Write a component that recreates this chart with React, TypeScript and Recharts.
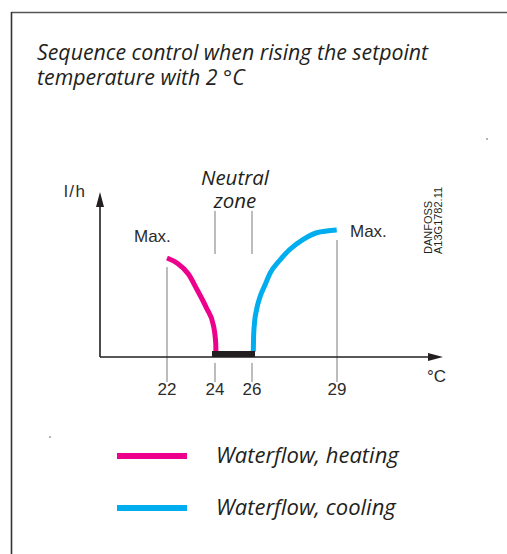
import React from "react";
import { ComposedChart, Line, XAxis, YAxis, ReferenceLine } from "recharts";

// °C axis ticks
const tickTemps = [22, 24, 26, 29];
const tickLabels = ["22", "24", "26", "29"];

// waterflow, heating (°C -> % of max l/h)
const heatTemps = [22.0, 22.43, 22.89, 23.26, 23.65, 23.93, 24.04, 24.05];
const heatFlow = [60, 56.8, 50.3, 40.6, 29.5, 19.4, 8.3, 3.2];

// waterflow, cooling
const coolTemps = [26.046, 26.056, 26.088, 26.159, 26.282, 26.459, 26.635, 26.988, 27.341, 27.811, 28.284, 28.99];
const coolFlow = [3.2, 12.1, 20.6, 28.5, 36.4, 43.6, 50.7, 58.8, 65.3, 71.3, 75.3, 77.0];

// neutral zone band on the axis
const neutralTemps = [24, 26];
const neutralFlow = [1.8, 1.8];

const seriesNames = ["Waterflow, heating", "Waterflow, cooling"];

// the drawing is schematic: the ticks are not evenly spaced in °C
const tickSpacing = [0, 48, 85, 170];
const warp = (t: number) => {
  let i = 0;
  while (i < tickTemps.length - 2 && t > tickTemps[i + 1]) i++;
  const k = (tickSpacing[i + 1] - tickSpacing[i]) / (tickTemps[i + 1] - tickTemps[i]);
  return tickSpacing[i] + (t - tickTemps[i]) * k;
};

const heatData = heatTemps.map((t, i) => ({ u: warp(t), flow: heatFlow[i] }));
const coolData = coolTemps.map((t, i) => ({ u: warp(t), flow: coolFlow[i] }));
const neutralData = neutralTemps.map((t, i) => ({ u: warp(t), flow: neutralFlow[i] }));

const X_MIN = -67;
const X_MAX = 276;

// vertical guide lines (flow units, may run below the axis)
const guides = [
  { t: 22, parts: [[54.5, -15.2]] },
  { t: 24, parts: [[88.5, 62.4], [-3.6, -15.2]] },
  { t: 26, parts: [[88.5, 62.4], [-3.6, -15.2]] },
  { t: 29, parts: [[70.9, -15.2]] },
];

const PINK = "#ec008c";
const CYAN = "#00aeef";
const INK = "#231f20";
const GREY = "#7a7a7a";
const SANS = "'Liberation Sans', Arial, sans-serif";
const ITAL = "'Open Sans', sans-serif";

const ArrowLine = (props: any) => {
  const { x1, y1, x2, y2 } = props;
  const dx = x2 - x1;
  const dy = y2 - y1;
  const len = Math.hypot(dx, dy) || 1;
  const ux = dx / len;
  const uy = dy / len;
  const hl = 15;
  const hw = 4;
  const bx = x2 - ux * hl;
  const by = y2 - uy * hl;
  return (
    <g>
      <line x1={x1} y1={y1} x2={bx} y2={by} stroke={INK} strokeWidth={1.6} />
      <polygon
        points={`${x2},${y2} ${bx - uy * hw},${by + ux * hw} ${bx + uy * hw},${by - ux * hw}`}
        fill={INK}
      />
    </g>
  );
};

export default function App() {
  return (
    <div style={{ position: "absolute", left: 0, top: 0, width: 507, height: 554, background: "#fff" }}>
      <ComposedChart
        width={507}
        height={554}
        margin={{ top: 192, right: 64, bottom: 157, left: 100 }}
      >
        <XAxis
          dataKey="u"
          type="number"
          domain={[X_MIN, X_MAX]}
          allowDataOverflow
          ticks={tickTemps.map(warp)}
          interval={0}
          tickFormatter={(v: number, i: number) => tickLabels[i]}
          axisLine={false}
          tickLine={false}
          tickMargin={20}
          height={40}
          tick={{ fontSize: 17, fill: "#2b2b2b", fontFamily: SANS }}
        />
        <YAxis type="number" domain={[0, 100]} hide />

        {guides.map((g) =>
          g.parts.map((p, j) => (
            <ReferenceLine
              key={`${g.t}-${j}`}
              segment={[
                { x: warp(g.t), y: p[0] },
                { x: warp(g.t), y: p[1] },
              ]}
              ifOverflow="visible"
              stroke={GREY}
              strokeWidth={1}
            />
          ))
        )}

        <ReferenceLine
          segment={[
            { x: X_MIN, y: 0 },
            { x: X_MAX, y: 0 },
          ]}
          ifOverflow="visible"
          shape={ArrowLine}
        />
        <ReferenceLine
          segment={[
            { x: X_MIN, y: 0 },
            { x: X_MIN, y: 100 },
          ]}
          ifOverflow="visible"
          shape={ArrowLine}
        />

        <Line
          data={heatData}
          dataKey="flow"
          name={seriesNames[0]}
          type="monotone"
          stroke={PINK}
          strokeWidth={5}
          dot={false}
          isAnimationActive={false}
        />
        <Line
          data={coolData}
          dataKey="flow"
          name={seriesNames[1]}
          type="monotone"
          stroke={CYAN}
          strokeWidth={5}
          dot={false}
          isAnimationActive={false}
        />
        <Line
          data={neutralData}
          dataKey="flow"
          name="Neutral zone"
          type="linear"
          stroke={INK}
          strokeWidth={6}
          strokeLinecap="square"
          dot={false}
          isAnimationActive={false}
        />
      </ComposedChart>

      <svg
        width={507}
        height={554}
        style={{ position: "absolute", left: 0, top: 0, pointerEvents: "none" }}
      >
        <line x1={11.5} y1={12.5} x2={507} y2={12.5} stroke="#555" strokeWidth={1.4} />
        <line x1={11.5} y1={12} x2={11.5} y2={554} stroke="#333" strokeWidth={1.6} />

        <text fontFamily={ITAL} fontStyle="italic" fontSize={21.3} fill={INK}>
          <tspan x={37} y={60}>Sequence control when rising the setpoint</tspan>
          <tspan x={37} y={85}>temperature with 2 °C</tspan>
        </text>

        <text fontFamily={ITAL} fontStyle="italic" fontSize={20.5} fill={INK} textAnchor="middle">
          <tspan x={235} y={185}>Neutral</tspan>
          <tspan x={235} y={208}>zone</tspan>
        </text>

        <g fontFamily={SANS} fontSize={17} fill="#2b2b2b">
          <text x={64} y={197} letterSpacing={1.5}>l/h</text>
          <text x={134} y={242}>Max.</text>
          <text x={350} y={237}>Max.</text>
          <text x={427} y={382}>°C</text>
        </g>

        <g fontFamily={SANS} fontSize={11} fill={INK}>
          <text transform="translate(432 254) rotate(-90)">DANFOSS</text>
          <text transform="translate(441.5 254) rotate(-90)">A13G1782.11</text>
        </g>

        <circle cx={487} cy={139} r={0.8} fill="#555" />
        <circle cx={50} cy={437} r={0.8} fill="#555" />

        {seriesNames.map((name, i) => (
          <g key={name}>
            <line
              x1={117}
              x2={187}
              y1={456 + i * 52}
              y2={456 + i * 52}
              stroke={i === 0 ? PINK : CYAN}
              strokeWidth={6}
            />
            <text
              x={216}
              y={463 + i * 52}
              fontFamily={ITAL}
              fontStyle="italic"
              fontSize={22}
              fill={INK}
            >
              {name}
            </text>
          </g>
        ))}
      </svg>
    </div>
  );
}
